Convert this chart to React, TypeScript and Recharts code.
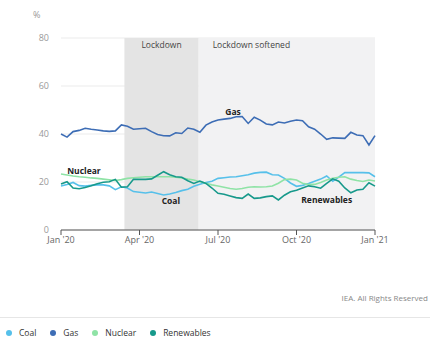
import { LineChart, Line, XAxis, YAxis, CartesianGrid, ReferenceArea, ReferenceDot } from 'recharts'

// weekly shares (%), Jan 2020 - Jan 2021
const coal = [18.3,19,19.8,18.5,18.3,18.6,18.8,18.8,18.4,16.8,18,17.5,16,15.7,15.4,15.8,15.2,14.6,15,15.6,16.4,17,18.2,19.1,19.8,20.3,21.5,21.8,22.1,22.2,22.6,23,23.7,24,24.1,23,22.9,21.5,19.6,18.2,18.6,19.4,20.3,21.2,22.5,20.3,22,23.9,23.9,23.9,23.9,23.8,22.2]
const gas = [40,38.7,41,41.5,42.4,42,41.7,41.3,41.1,41.3,43.8,43.2,42,42.2,42.4,41,39.8,39.3,39.2,40.5,40.2,42.5,42,40.7,43.7,45,45.8,46.2,46.5,47.2,47.3,44.4,47,45.8,44.2,43.8,45,44.6,45.3,45.8,45.5,43,42,40,37.8,38.4,38.3,38.2,40.7,39.6,39.3,35.4,39.3]
const nuclear = [23.3,22.9,22.5,22.2,22,21.7,21.5,21.2,20.9,20.6,21,21.5,21.8,22,22.2,22.2,22.2,22.2,22.2,22,21.7,21.2,20.8,20.1,19.5,18.8,18.3,17.8,17.3,17,17.3,17.8,18,17.9,18,18.3,19.5,21,21.2,20.8,19.5,18.9,19,19.8,20.8,21.6,22,22.2,21.2,20.6,20.2,20.8,20.4]
const renewables = [19.2,20.1,17.5,17.2,17.7,18.4,19.3,19.9,20.1,21.1,17.8,18,21.1,21.1,21.1,21.3,22.8,24.3,23,22.2,22,20.5,19.4,20.4,19.4,17.5,15.3,14.9,14.2,13.5,13.2,15,13.2,13.4,13.9,14.2,12.5,14.5,15.9,16.6,17.5,18.4,18,17.4,19.4,21.3,20.3,17.5,15.5,16.7,17,19.7,18.3]

const tickWeeks = [0, 13, 26, 39, 52]
const tickLabels = ["Jan '20", "Apr '20", "Jul '20", "Oct '20", "Jan '21"]
const yTicks = [0, 20, 40, 60, 80]

const lockdown = [10.5, 22.8]
const softened = [22.8, 52]

const series = [
  { key: 'coal', name: 'Coal', color: '#56c0ea' },
  { key: 'gas', name: 'Gas', color: '#3d6db5' },
  { key: 'nuclear', name: 'Nuclear', color: '#8fe3a6' },
  { key: 'renewables', name: 'Renewables', color: '#17998b' },
]

const data = coal.map((c, i) => ({ w: i, coal: c, gas: gas[i], nuclear: nuclear[i], renewables: renewables[i] }))

const font = '"Open Sans", Lato, sans-serif'
const lineLabel = { fontSize: 8.5, fontWeight: 700, fill: '#222', fontFamily: font }

export default function App() {
  return (
    <div style={{ position: 'absolute', left: 0, top: 0, width: 436, height: 345, background: '#fff', fontFamily: font }}>
      <div style={{ position: 'absolute', left: 33, top: 8, fontSize: 9, color: '#999' }}>%</div>
      <LineChart width={436} height={260} data={data} margin={{ top: 38, right: 61, left: 0, bottom: 10 }}>
        <ReferenceArea x1={lockdown[0]} x2={lockdown[1]} y1={0} y2={80} fill="#e4e4e4" fillOpacity={1} stroke="none"
          label={{ value: 'Lockdown', position: 'insideTop', offset: 4, fontSize: 8.5, fill: '#444', fontFamily: font }} />
        <ReferenceArea x1={softened[0]} x2={softened[1]} y1={0} y2={80} fill="#f2f2f3" fillOpacity={1} stroke="none"
          label={{ value: 'Lockdown softened', position: 'insideTopLeft', offset: 4, dx: 10, fontSize: 8.5, fill: '#444', fontFamily: font }} />
        <CartesianGrid vertical={false} stroke="#ebebeb" />
        <XAxis type="number" dataKey="w" domain={[0, 52]} ticks={tickWeeks} tickFormatter={(v, i) => tickLabels[i]}
          stroke="#555" tickSize={5} tick={{ fontSize: 9, fill: '#666', fontFamily: font }} height={20} />
        <YAxis domain={[0, 80]} ticks={yTicks} width={61} axisLine={false} tickLine={false} tickSize={0} tickMargin={12}
          tick={{ fontSize: 9, fill: '#999', fontFamily: font }} />
        {series.map(s => (
          <Line key={s.key} dataKey={s.key} stroke={s.color} strokeWidth={1.6} dot={false} isAnimationActive={false} type="linear" />
        ))}
        <ReferenceDot x={28.5} y={49.2} r={0} fill="none" stroke="none" label={{ value: 'Gas', position: 'center', ...lineLabel }} />
        <ReferenceDot x={3.8} y={24.4} r={0} fill="none" stroke="none" label={{ value: 'Nuclear', position: 'center', ...lineLabel }} />
        <ReferenceDot x={18.2} y={12.1} r={0} fill="none" stroke="none" label={{ value: 'Coal', position: 'center', ...lineLabel }} />
        <ReferenceDot x={44} y={12.5} r={0} fill="none" stroke="none" label={{ value: 'Renewables', position: 'center', ...lineLabel }} />
      </LineChart>
      <div style={{ position: 'absolute', right: 8, top: 292, fontSize: 8, color: '#888' }}>IEA. All Rights Reserved</div>
      <div style={{ position: 'absolute', left: 0, width: 430, top: 317, borderTop: '1px solid #e6e6e6' }} />
      <div style={{ position: 'absolute', left: 6, top: 327, display: 'flex', fontSize: 8.5, color: '#333' }}>
        {series.map(s => (
          <div key={s.key} style={{ display: 'flex', alignItems: 'center', marginRight: 14 }}>
            <span style={{ width: 6, height: 6, borderRadius: 3, background: s.color, marginRight: 7, display: 'inline-block' }} />
            {s.name}
          </div>
        ))}
      </div>
    </div>
  )
}
